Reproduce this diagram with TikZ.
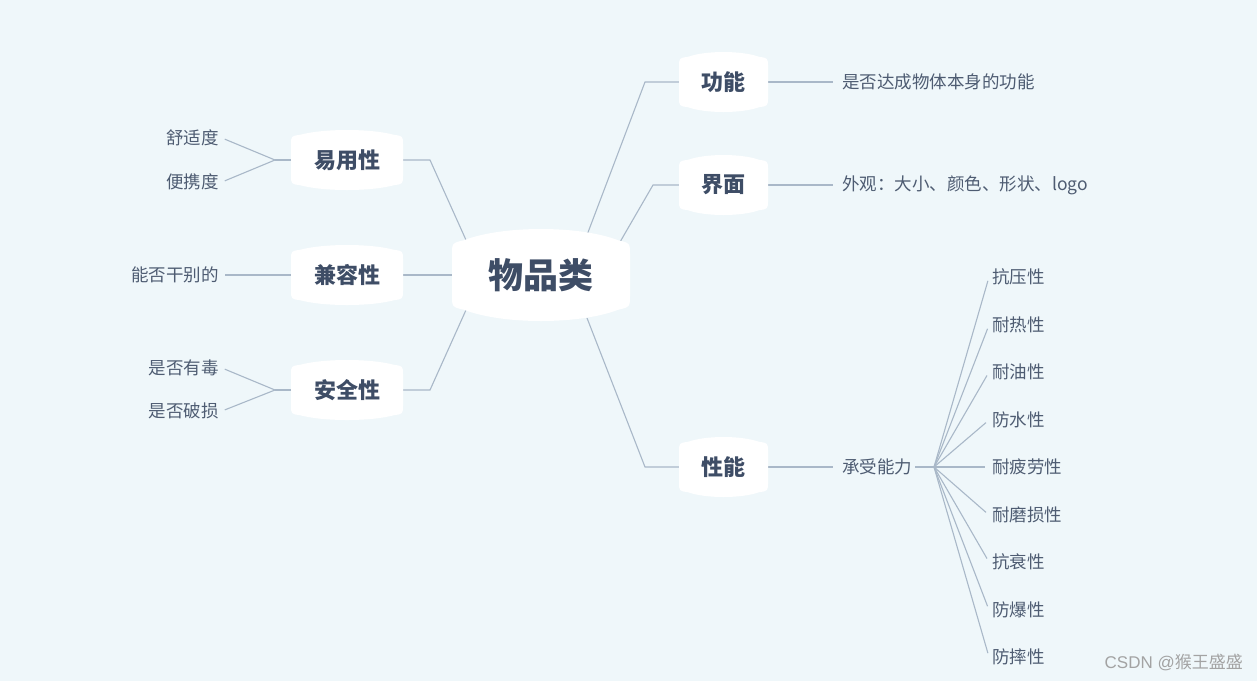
\documentclass[tikz,border=0pt]{standalone}
\usepackage{fontspec}
\setmainfont{Noto Sans CJK SC}
\newfontfamily\wmlatin{Liberation Sans}
\usetikzlibrary{calc}
\definecolor{bgc}{HTML}{EFF7FA}
\definecolor{linec}{HTML}{A9B8C8}
\definecolor{mainc}{HTML}{3E4D66}
\definecolor{leafc}{HTML}{4E5C72}
\definecolor{wmc}{HTML}{A3A3A3}
\pgfdeclarelayer{bgl}
\pgfdeclarelayer{edgel}
\pgfdeclarelayer{bubl}
\pgfsetlayers{bgl,edgel,bubl,main}
\tikzset{
  bubpath/.style n args={4}{insert path={
    ({-#1},{#2-#3-#4}) .. controls ({-#1},{#2-#3}) .. ({-#1+#4},{#2-0.8*#3})
    .. controls ({-(#1-#4)/2},{#2+0.8*#3/3}) and ({(#1-#4)/2},{#2+0.8*#3/3}) .. ({#1-#4},{#2-0.8*#3})
    .. controls ({#1},{#2-#3}) .. ({#1},{#2-#3-#4})
    -- ({#1},{-#2+#3+#4})
    .. controls ({#1},{-#2+#3}) .. ({#1-#4},{-#2+0.8*#3})
    .. controls ({(#1-#4)/2},{-#2-0.8*#3/3}) and ({-(#1-#4)/2},{-#2-0.8*#3/3}) .. ({-#1+#4},{-#2+0.8*#3})
    .. controls ({-#1},{-#2+#3}) .. ({-#1},{-#2+#3+#4}) -- cycle}},
  bubfill/.style={fill=white, draw=none},
  rootnode/.style={shape=rectangle, inner sep=0pt, minimum width=178pt, minimum height=92pt,
    text=mainc, font=\fontsize{35}{40}\selectfont\bfseries},
  rbranch/.style={shape=rectangle, inner sep=0pt, minimum width=89pt, minimum height=60pt,
    text=mainc, font=\fontsize{22}{26}\selectfont\bfseries},
  lbranch/.style={rbranch, minimum width=112pt},
  leaf/.style={inner sep=3pt, text=leafc, font=\fontsize{17.5}{20}\selectfont},
  rleaf/.style={leaf, anchor=west},
  lleaf/.style={leaf, anchor=east},
  conn/.style={draw=linec, line width=1.1pt},
}
\begin{document}
\begin{tikzpicture}[x=1pt, y=-1pt]
\begin{pgfonlayer}{bgl}
\fill[bgc] (0,0) rectangle (1257,681);
\end{pgfonlayer}
\useasboundingbox (0,0) rectangle (1257,681);

% main nodes
\node[rootnode] (root) at (541,275) {物品类};
\node[rbranch] (gn) at (723.5,82) {功能};
\node[rbranch] (jm) at (723.5,185) {界面};
\node[rbranch] (xn) at (723.5,467) {性能};
\node[lbranch] (yy) at (347,160) {易用性};
\node[lbranch] (jr) at (347,275) {兼容性};
\node[lbranch] (aq) at (347,390) {安全性};

% right leaves
\node[rleaf] (gn1) at (839,82) {是否达成物体本身的功能};
\node[rleaf] (jm1) at (839,185) {外观：大小、颜色、形状、logo};
\node[rleaf] (xn1) at (839,467) {承受能力};
\node[rleaf] (x1) at (989,277) {抗压性};
\node[rleaf] (x2) at (989,325) {耐热性};
\node[rleaf] (x3) at (989,372) {耐油性};
\node[rleaf] (x4) at (989,420) {防水性};
\node[rleaf] (x5) at (989,467) {耐疲劳性};
\node[rleaf] (x6) at (989,515) {耐磨损性};
\node[rleaf] (x7) at (989,562) {抗衰性};
\node[rleaf] (x8) at (989,610) {防爆性};
\node[rleaf] (x9) at (989,657) {防摔性};

% left leaves
\node[lleaf] (yy1) at (222,138) {舒适度};
\node[lleaf] (yy2) at (222,182) {便携度};
\node[lleaf] (jr1) at (222,275) {能否干别的};
\node[lleaf] (aq1) at (222,368) {是否有毒};
\node[lleaf] (aq2) at (222,411) {是否破损};

% watermark
\node[anchor=east, inner sep=0pt, text=wmc, font=\fontsize{17}{20}\selectfont] (wm) at (1243,663) {{\wmlatin CSDN @}猴王盛盛};

% bubble backgrounds
\begin{pgfonlayer}{bubl}
\fill[bubfill, shift={(root.center)}, bubpath={89}{46}{14}{12}];
\foreach \n in {gn,jm,xn}{
  \fill[bubfill, shift={(\n.center)}, bubpath={44.5}{30}{6}{9}];
}
\foreach \n in {yy,jr,aq}{
  \fill[bubfill, shift={(\n.center)}, bubpath={56}{30}{6}{9}];
}
\end{pgfonlayer}

% helper coordinates
\coordinate (r1) at ($(root.center)+(46,-40)$);
\coordinate (r2) at ($(root.center)+(79,-33)$);
\coordinate (r3) at ($(root.center)+(46,43)$);
\coordinate (l1) at ($(root.center)+(-75,-35)$);
\coordinate (l3) at ($(root.center)+(-75,35)$);
\coordinate (b1) at (645,82);
\coordinate (b2) at (653,185);
\coordinate (b3) at (645,467);
\coordinate (c1) at (430,160);
\coordinate (c3) at (430,390);
\coordinate (fx) at (934,467);
\coordinate (fy) at (275,160);
\coordinate (fa) at (275,390);

\begin{pgfonlayer}{edgel}
\draw[conn] (r1) -- (b1) -- (gn.center);
\draw[conn] (r2) -- (b2) -- (jm.center);
\draw[conn] (r3) -- (b3) -- (xn.center);
\draw[conn] (l1) -- (c1) -- (yy.center);
\draw[conn] (root.center) -- (jr.center);
\draw[conn] (l3) -- (c3) -- (aq.center);
\draw[conn, shorten >=6pt] (gn.east) -- (gn1.west);
\draw[conn, shorten >=6pt] (jm.east) -- (jm1.west);
\draw[conn, shorten >=6pt] (xn.east) -- (xn1.west);
\draw[conn] (xn1.east) -- (fx);
\foreach \k in {1,...,9}{
  \draw[conn, shorten >=4pt] (fx) -- (x\k.west);
}
\draw[conn] (yy.west) -- (fy);
\draw[conn, shorten >=3pt] (fy) -- (yy1.east);
\draw[conn, shorten >=3pt] (fy) -- (yy2.east);
\draw[conn, shorten >=3pt] (jr.west) -- (jr1.east);
\draw[conn] (aq.west) -- (fa);
\draw[conn, shorten >=3pt] (fa) -- (aq1.east);
\draw[conn, shorten >=3pt] (fa) -- (aq2.east);
\end{pgfonlayer}
\end{tikzpicture}
\end{document}
